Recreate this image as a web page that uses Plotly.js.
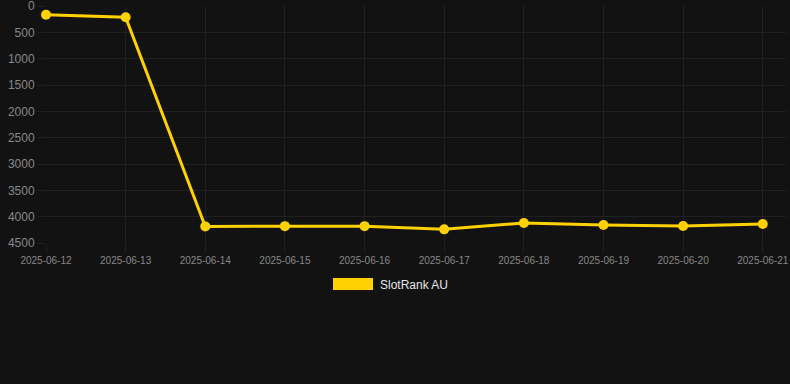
<!DOCTYPE html>
<html>
<head>
<meta charset="utf-8">
<script src="https://cdn.plot.ly/plotly-3.0.1.min.js"></script>
<style>
html,body{margin:0;padding:0;background:#121212;}
#chart{width:790px;height:384px;}
</style>
</head>
<body>
<div id="chart"></div>
<script>
const dates = ["2025-06-12","2025-06-13","2025-06-14","2025-06-15","2025-06-16","2025-06-17","2025-06-18","2025-06-19","2025-06-20","2025-06-21"];
const ranks = [165, 215, 4185, 4180, 4180, 4241, 4120, 4158, 4177, 4139];
const seriesName = "SlotRank AU";
const yTicks = [0,500,1000,1500,2000,2500,3000,3500,4000,4500];

const lineColor = "#FFD100";
const gridColor = "#202020";

const trace = {
  x: dates, y: ranks, name: seriesName,
  type: "scatter", mode: "lines+markers",
  line: {color: lineColor, width: 3},
  marker: {color: lineColor, size: 10},
  cliponaxis: false,
  showlegend: false,
  hoverinfo: "x+y"
};

const plotTop = 6, plotBottom = 243, plotLeft = 46, plotW = 740;
const plotH = plotBottom - plotTop;

const layout = {
  width: 790, height: 384,
  paper_bgcolor: "#121212", plot_bgcolor: "#121212",
  margin: {l: plotLeft, r: 790 - plotLeft - plotW, t: plotTop, b: 384 - plotBottom},
  font: {family: "Liberation Sans, Arial, sans-serif", color: "#888888"},
  xaxis: {
    type: "date",
    range: ["2025-06-12", "2025-06-21 07:00"],
    tickvals: dates, ticktext: dates,
    showgrid: true, gridcolor: gridColor, gridwidth: 1,
    zeroline: false, showline: false,
    ticks: "outside", ticklen: 8, tickcolor: gridColor,
    ticklabeloverflow: "allow",
    tickfont: {size: 10, color: "#888888"}
  },
  yaxis: {
    range: [4500, 0],
    tickvals: yTicks, ticktext: yTicks.map(String),
    showgrid: true, gridcolor: gridColor, gridwidth: 1,
    zeroline: false, showline: false,
    ticks: "outside", ticklen: 8, tickcolor: gridColor,
    ticklabeloverflow: "allow",
    tickfont: {size: 12, color: "#888888"}
  },
  shapes: [{
    type: "rect", xref: "paper", yref: "paper",
    x0: (333-plotLeft)/plotW, x1: (373-plotLeft)/plotW,
    y0: (plotBottom-278)/plotH, y1: (plotBottom-290)/plotH,
    fillcolor: lineColor, line: {width: 0}
  }],
  annotations: [{
    xref: "paper", yref: "paper",
    x: (378-plotLeft)/plotW, y: (plotBottom-285)/plotH,
    xanchor: "left", yanchor: "middle",
    text: seriesName, showarrow: false,
    font: {size: 12, color: "#e6e6e6"}
  }]
};

Plotly.newPlot("chart", [trace], layout, {displayModeBar: false, staticPlot: true});
</script>
</body>
</html>
